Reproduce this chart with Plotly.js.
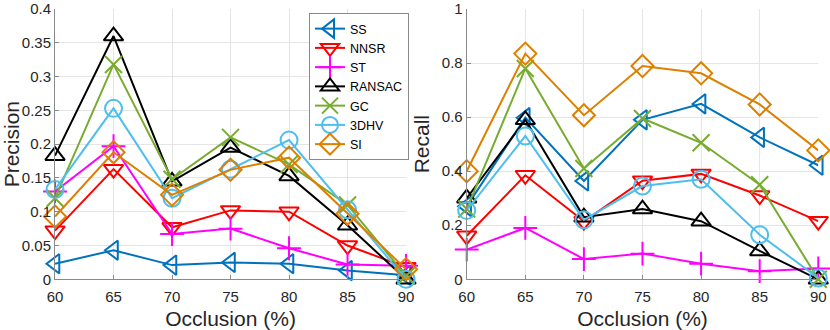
<!DOCTYPE html>
<html>
<head>
<meta charset="utf-8">
<script src="https://cdn.plot.ly/plotly-3.0.1.min.js"></script>
<style>
  html, body { margin: 0; padding: 0; background: #fff; }
  #plot { width: 830px; height: 330px; }
</style>
</head>
<body>
<div id="plot"></div>
<script>
/* occlusion levels */
var occlusion = [60, 65, 70, 75, 80, 85, 90];

var names = ['SS', 'NNSR', 'ST', 'RANSAC', 'GC', '3DHV', 'SI'];

/* tick values */
var precTicks = [0, 0.05, 0.1, 0.15, 0.2, 0.25, 0.3, 0.35, 0.4];
var recTicks = [0, 0.2, 0.4, 0.6, 0.8, 1];

/* precision (left) */
var precSS     = [0.023, 0.043, 0.021, 0.025, 0.023, 0.013, 0.006];
var precNNSR   = [0.072, 0.163, 0.077, 0.102, 0.100, 0.050, 0.018];
var precST     = [0.130, 0.197, 0.067, 0.075, 0.046, 0.022, 0.020];
var precRANSAC = [0.183, 0.360, 0.145, 0.195, 0.153, 0.080, 0.000];
var precGC     = [0.120, 0.318, 0.148, 0.210, 0.170, 0.110, 0.005];
var prec3DHV   = [0.133, 0.253, 0.120, 0.163, 0.206, 0.103, 0.000];
var precSI     = [0.093, 0.188, 0.125, 0.162, 0.180, 0.097, 0.015];

/* recall (right) */
var recSS     = [0.270, 0.598, 0.364, 0.590, 0.649, 0.525, 0.422];
var recNNSR   = [0.161, 0.385, 0.215, 0.365, 0.390, 0.310, 0.215];
var recST     = [0.110, 0.190, 0.075, 0.095, 0.058, 0.030, 0.040];
var recRANSAC = [0.300, 0.590, 0.230, 0.260, 0.215, 0.105, 0.000];
var recGC     = [0.260, 0.780, 0.410, 0.595, 0.505, 0.350, 0.000];
var rec3DHV   = [0.255, 0.530, 0.220, 0.345, 0.370, 0.165, 0.005];
var recSI     = [0.400, 0.835, 0.607, 0.789, 0.762, 0.647, 0.477];

var precision = [precSS, precNNSR, precST, precRANSAC, precGC, prec3DHV, precSI];
var recall = [recSS, recNNSR, recST, recRANSAC, recGC, rec3DHV, recSI];

var colors = ['#0072BD', '#FF0000', '#FF00FF', '#000000', '#77AC30', '#4DBEEE', '#DD8000'];
var symbols = ['triangle-left-open', 'triangle-down-open', 'cross-thin-open', 'triangle-up-open',
               'x-thin-open', 'circle-open', 'diamond-open'];

var data = [];
for (var i = 0; i < names.length; i++) {
	var style = {
		mode: 'lines+markers',
		type: 'scatter',
		cliponaxis: false,
		line: { color: colors[i], width: 2 },
		marker: { symbol: symbols[i], size: 17, color: colors[i], line: { color: colors[i], width: 2 } }
	};
	data.push(Object.assign({ x: occlusion, y: precision[i], name: names[i], xaxis: 'x', yaxis: 'y', showlegend: true }, style));
	data.push(Object.assign({ x: occlusion, y: recall[i], name: names[i], xaxis: 'x2', yaxis: 'y2', showlegend: false }, style));
}

var tickFont = { family: 'Liberation Sans, Arial, sans-serif', size: 15, color: '#262626' };
var titleFont = { family: 'Liberation Sans, Arial, sans-serif', size: 21, color: '#262626' };

function xAxis(domain, anchor) {
	return {
		domain: domain, anchor: anchor, range: [60, 90],
		tickvals: occlusion,
		showgrid: true, gridcolor: '#e5e5e5', zeroline: false,
		showline: true, linecolor: '#8a8a8a', linewidth: 1,
		ticks: 'inside', ticklen: 4, tickcolor: '#8a8a8a',
		ticklabelstandoff: 4, ticklabeloverflow: 'allow',
		tickfont: tickFont,
		title: { text: 'Occlusion (%)', font: titleFont, standoff: 11 }
	};
}
function yAxis(range, vals, title, anchor) {
	return {
		domain: [0.1536, 0.9727], anchor: anchor, range: range,
		tickvals: vals,
		showgrid: true, gridcolor: '#e5e5e5', zeroline: false,
		showline: true, linecolor: '#8a8a8a', linewidth: 1,
		ticks: 'inside', ticklen: 4, tickcolor: '#8a8a8a',
		ticklabeloverflow: 'allow',
		tickfont: tickFont,
		title: { text: title, font: titleFont, standoff: 6 }
	};
}

var layout = {
	width: 830,
	height: 330,
	margin: { l: 0, r: 0, t: 0, b: 0 },
	paper_bgcolor: '#ffffff',
	plot_bgcolor: '#ffffff',
	showlegend: true,
	xaxis: xAxis([0.0663, 0.4892], 'y'),
	yaxis: yAxis([0, 0.4], precTicks, 'Precision', 'x'),
	xaxis2: xAxis([0.5623, 0.9859], 'y2'),
	yaxis2: yAxis([0, 1], recTicks, 'Recall', 'x2'),
	legend: {
		x: 309 / 830, y: 1 - 13 / 330, xanchor: 'left', yanchor: 'top',
		bgcolor: '#ffffff', bordercolor: '#8a8a8a', borderwidth: 1,
		font: { family: 'Liberation Sans, Arial, sans-serif', size: 12.5, color: '#000000' },
		itemwidth: 30, tracegroupgap: 0
	}
};

Plotly.newPlot('plot', data, layout, { displayModeBar: false, staticPlot: true });
</script>
</body>
</html>
